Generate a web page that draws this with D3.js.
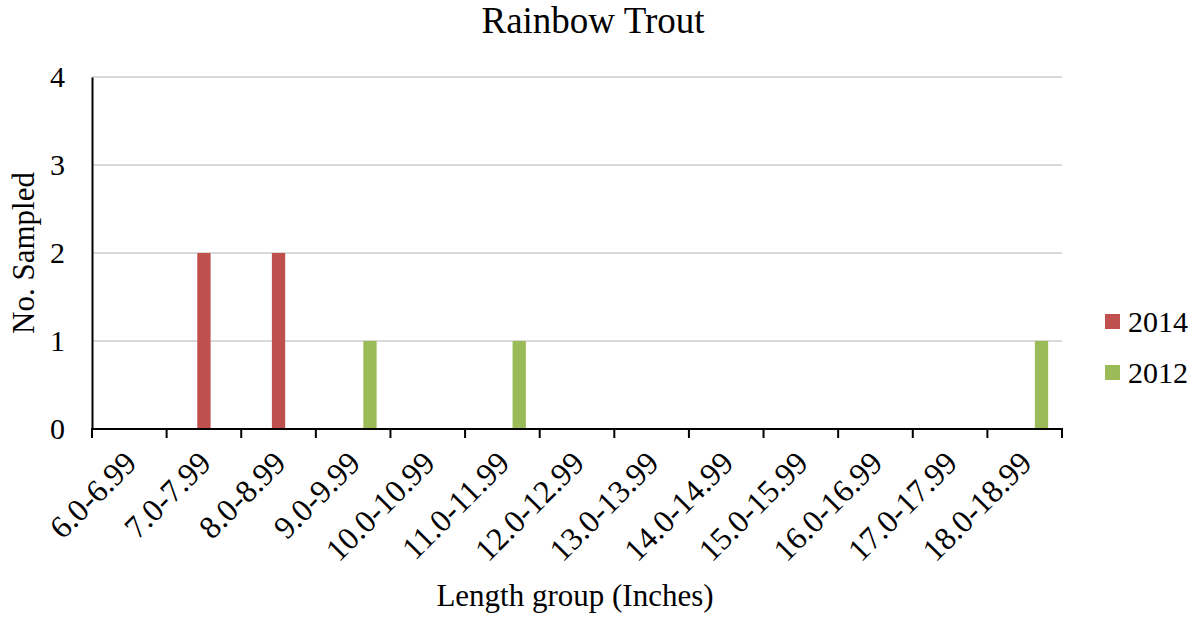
<!DOCTYPE html>
<html>
<head>
<meta charset="utf-8">
<script src="https://cdn.jsdelivr.net/npm/d3@7"></script>
<style>
  html, body { margin: 0; padding: 0; background: #fff; }
  svg { display: block; font-family: "Liberation Serif", "Times New Roman", serif; }
</style>
</head>
<body>
<svg id="chart" width="1202" height="622"></svg>
<script>
// Length groups (inches) and counts per survey year
const categories = ["6.0-6.99", "7.0-7.99", "8.0-8.99", "9.0-9.99", "10.0-10.99", "11.0-11.99",
  "12.0-12.99", "13.0-13.99", "14.0-14.99", "15.0-15.99", "16.0-16.99", "17.0-17.99", "18.0-18.99"];
const values2014 = [0, 2, 2, 0, 0, 0, 0, 0, 0, 0, 0, 0, 0];
const values2012 = [0, 0, 0, 1, 0, 1, 0, 0, 0, 0, 0, 0, 1];
const seriesNames = ["2014", "2012"];
const seriesColors = ["#c0504d", "#9bbb59"];
const yTicks = [0, 1, 2, 3, 4];

const series = [
  { name: seriesNames[0], color: seriesColors[0], values: values2014, slot: 1 },
  { name: seriesNames[1], color: seriesColors[1], values: values2012, slot: 2 }
];

const svg = d3.select("#chart");
const plot = { left: 92, right: 1062, top: 77, bottom: 429 };

const x = d3.scaleBand().domain(categories).range([plot.left, plot.right]).padding(0);
const y = d3.scaleLinear().domain([0, 4]).range([plot.bottom, plot.top]);

// three cluster slots per category; the series occupy the middle and right slots
const step = x.bandwidth() * 0.2255;
const slot = d3.scaleBand().domain([0, 1, 2])
  .range([x.bandwidth() / 2 - 1.5 * step, x.bandwidth() / 2 + 1.5 * step])
  .paddingInner(0.21).paddingOuter(0.105);

// gridlines
svg.append("g").selectAll("line").data(yTicks.filter(d => d > 0)).join("line")
  .attr("x1", plot.left).attr("x2", plot.right)
  .attr("y1", d => y(d)).attr("y2", d => y(d))
  .attr("stroke", "#d9d9d9").attr("stroke-width", 2);

// bars
series.forEach(s => {
  svg.append("g").selectAll("rect")
    .data(categories.map((c, i) => ({ c, v: s.values[i] })).filter(d => d.v > 0))
    .join("rect")
    .attr("x", d => x(d.c) + slot(s.slot))
    .attr("width", slot.bandwidth())
    .attr("y", d => y(d.v))
    .attr("height", d => y(0) - y(d.v))
    .attr("fill", s.color);
});

// y axis
const yAxis = svg.append("g").attr("transform", `translate(${plot.left},0)`)
  .call(d3.axisLeft(y).tickValues(yTicks).tickFormat(d3.format("d")).tickSize(0).tickPadding(27));
yAxis.select(".domain").attr("stroke", "#000").attr("stroke-width", 2);
yAxis.selectAll("text").attr("font-size", 30).attr("font-family", "Liberation Serif")
  .attr("fill", "#000").attr("dy", "0.32em");

// x axis with boundary ticks
const xAxisG = svg.append("g").attr("transform", `translate(0,${plot.bottom})`);
xAxisG.append("line").attr("x1", plot.left - 1).attr("x2", plot.right + 1)
  .attr("stroke", "#000").attr("stroke-width", 2);
const bounds = categories.map(c => x(c)).concat([x(categories[categories.length - 1]) + x.bandwidth()]);
xAxisG.selectAll("line.tick").data(bounds).join("line").attr("class", "tick")
  .attr("x1", d => d).attr("x2", d => d).attr("y1", 0).attr("y2", 9)
  .attr("stroke", "#000").attr("stroke-width", 2);
xAxisG.selectAll("text").data(categories).join("text")
  .attr("transform", d => `translate(${x(d) + x.bandwidth() / 2 - 8},${19}) rotate(-45)`)
  .attr("text-anchor", "end").attr("dy", "0.75em")
  .attr("font-size", 32).attr("fill", "#000")
  .text(d => d);

// titles
svg.append("text").attr("x", 593).attr("y", 33).attr("text-anchor", "middle")
  .attr("font-size", 37).attr("fill", "#000").text("Rainbow Trout");
svg.append("text").attr("x", 575).attr("y", 606).attr("text-anchor", "middle")
  .attr("font-size", 31).attr("fill", "#000").text("Length group (Inches)");
svg.append("text").attr("transform", "translate(34,253) rotate(-90)").attr("text-anchor", "middle")
  .attr("font-size", 31).attr("fill", "#000").text("No. Sampled");

// legend
const legend = svg.append("g").selectAll("g").data(series).join("g")
  .attr("transform", (d, i) => `translate(1105,${314 + i * 51})`);
legend.append("rect").attr("width", 15).attr("height", 15).attr("fill", d => d.color);
legend.append("text").attr("x", 23).attr("y", 18).attr("font-size", 30).attr("fill", "#000")
  .text(d => d.name);
</script>
</body>
</html>
